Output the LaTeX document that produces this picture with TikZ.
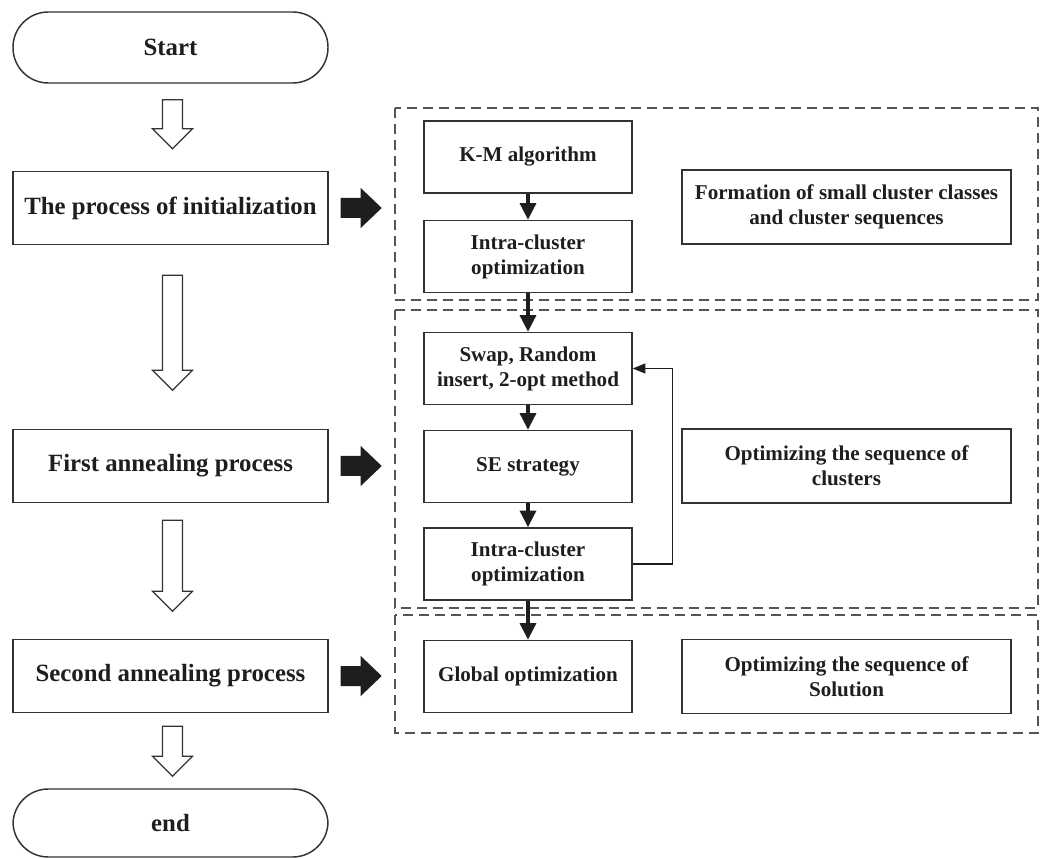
\documentclass[tikz,border=0pt]{standalone}
\usepackage{fontspec}
\setmainfont{Liberation Serif}
\usetikzlibrary{arrows.meta,calc}
\definecolor{ink}{HTML}{1E1E1E}
\definecolor{edge}{HTML}{333333}
\definecolor{dashgray}{HTML}{555555}

% hollow downward block arrow below a node: node, gap, shaft length
\newcommand\hollowdown[3]{%
  \draw[hollow] ($(#1.south)+(-8,#2)$) -- ++(20,0) -- ++(0,#3) -- ++(10,0)
    -- ++(-20,20) -- ++(-20,-20) -- ++(10,0) -- cycle;}
% solid block arrow to the right of a node
\newcommand\pushright[1]{%
  \fill[ink] ($(#1.east)+(12,-10)$) -- ++(20,0) -- ++(0,-10) -- ++(21,20)
    -- ++(-21,20) -- ++(0,-10) -- ++(-20,0) -- cycle;}

\begin{document}
\begin{tikzpicture}[x=0.75pt,y=-0.75pt,
  mainbox/.style={draw=edge, line width=1.1pt, minimum width=236.25pt,
    minimum height=54.75pt, inner sep=0pt, text=ink, align=center,
    font=\fontsize{18.6}{22}\selectfont\bfseries},
  pill/.style={mainbox, minimum height=53.25pt, rounded corners=26.5pt},
  stepbox/.style={draw=edge, line width=1.1pt, minimum width=156pt,
    minimum height=54pt, inner sep=0pt, text=ink, align=center,
    font=\fontsize{15.8}{18.8}\selectfont\bfseries},
  notebox/.style={stepbox, minimum width=246.75pt, minimum height=55.5pt},
  group/.style={draw=dashgray, line width=0.9pt, dash pattern=on 7.5pt off 4.5pt},
  flow/.style={draw=ink, line width=2.5pt, -{Triangle[width=12pt,length=12.5pt]}},
  loopback/.style={draw=ink, line width=1pt, -{Triangle[width=7.5pt,length=9.5pt]}},
  hollow/.style={draw=edge, line width=0.9pt, fill=white, line join=miter}
]
\useasboundingbox (0,0) rectangle (1047,859);

% dashed stage frames
\draw[group] (395,108) rectangle (1038,300);
\draw[group] (395,310) rectangle (1038,608);
\draw[group] (395,615) rectangle (1038,733);

% main flow
\node[pill] (start) at (170.5,47.5) {Start};
\node[mainbox] (init) at (170.5,208) {The process of initialization};
\node[mainbox] (first) at (170.5,466) {First annealing process};
\node[mainbox] (second) at (170.5,676) {Second annealing process};
\node[pill, minimum height=51pt] (end) at (170.5,823) {end};

\hollowdown{start}{16}{29}
\hollowdown{init}{30}{95}
\hollowdown{first}{17}{71}
\hollowdown{second}{13}{30}

\pushright{init}
\pushright{first}
\pushright{second}

% detailed steps
\node[stepbox] (km) at (528,157) {K-M algorithm};
\node[stepbox] (intra1) at (528,256.5) {Intra-cluster\\optimization};
\node[stepbox] (swap) at (528,368.5) {Swap, Random\\insert, 2-opt method};
\node[stepbox] (se) at (528,466.5) {SE strategy};
\node[stepbox] (intra2) at (528,564) {Intra-cluster\\optimization};
\node[stepbox] (global) at (528,676.5) {Global optimization};

% stage descriptions
\node[notebox] (form) at (846.5,207) {Formation of small cluster classes\\and cluster sequences};
\node[notebox] (clus) at (846.5,466) {Optimizing the sequence of\\clusters};
\node[notebox] (sol) at (846.5,676.5) {Optimizing the sequence of\\Solution};

% step connectors
\draw[flow] (km) -- (intra1);
\draw[flow] (intra1) -- (swap);
\draw[flow] (swap) -- (se);
\draw[flow] (se) -- (intra2);
\draw[flow] (intra2) -- (global);
\draw[loopback] (intra2.east) -- ++(40,0) |- (swap.east);
\end{tikzpicture}
\end{document}
